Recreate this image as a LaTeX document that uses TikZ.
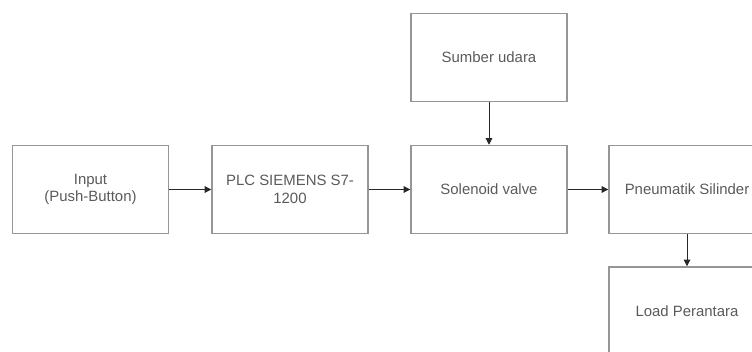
\documentclass[tikz,border=0pt]{standalone}
\usepackage{fontspec}
\setmainfont{Liberation Sans}
\usetikzlibrary{arrows.meta}

\definecolor{garisKotak}{RGB}{150,150,150}
\definecolor{garisPanah}{RGB}{40,40,40}
\definecolor{teksAbu}{RGB}{90,90,90}

\tikzset{every picture/.style={line width=0.75pt}}
\tikzset{
  blok/.style={draw=garisKotak, line width=1.1pt, minimum width=117pt, minimum height=66pt,
    inner sep=0pt, align=center, text=teksAbu, font=\fontsize{11.2}{13}\selectfont},
  panah/.style={draw=garisPanah, line width=0.75pt, -{Triangle[length=5pt,width=5pt]}}
}

\begin{document}
\begin{tikzpicture}[x=0.75pt,y=0.75pt,yscale=-1,xscale=1]
\useasboundingbox (0,0) rectangle (752,352);
\clip (0,0) rectangle (752,352);

%Shape: Rectangle [Input]
\node[blok] (input) at (90.5,189.5) {Input\\(Push-Button)};
%Shape: Rectangle [PLC]
\node[blok] (plc) at (290,189.5) {PLC SIEMENS S7-\\1200};
%Shape: Rectangle [Solenoid]
\node[blok] (solenoid) at (489,189.5) {Solenoid valve};
%Shape: Rectangle [Sumber]
\node[blok] (sumber) at (489,57.5) {Sumber udara};
%Shape: Rectangle [Pneumatik]
\node[blok] (pneumatik) at (687,189.5) {Pneumatik Silinder};
%Shape: Rectangle [Load]
\node[blok] (load) at (687,311) {Load Perantara};

%Straight Lines [arrows]
\draw[panah] (input) -- (plc);
\draw[panah] (plc) -- (solenoid);
\draw[panah] (sumber) -- (solenoid);
\draw[panah] (solenoid) -- (pneumatik);
\draw[panah] (pneumatik) -- (load);

\end{tikzpicture}
\end{document}
